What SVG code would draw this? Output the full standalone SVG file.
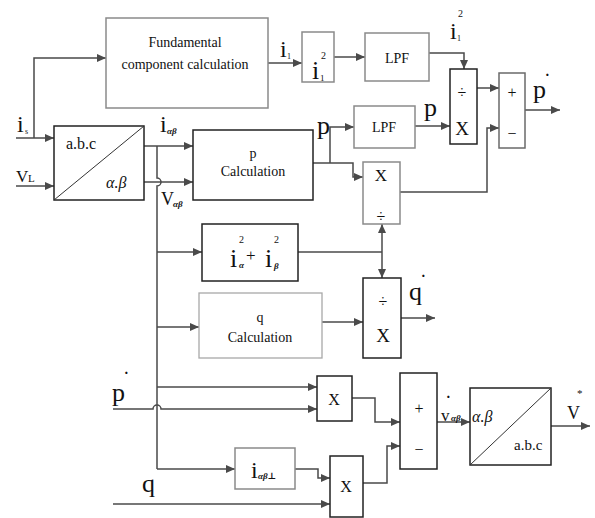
<svg xmlns="http://www.w3.org/2000/svg" width="595" height="518" viewBox="0 0 595 518" font-family="Liberation Serif, Times New Roman, DejaVu Serif, serif">
<style>
.b{fill:#fff;stroke:#222;stroke-width:1.5}
.g{fill:#fff;stroke:#8a8a8a;stroke-width:1.5}
.lg{fill:#fff;stroke:#a8a8a8;stroke-width:1.3}
.w{fill:none;stroke:#4a4a4a;stroke-width:1.5}
.d{fill:none;stroke:#333;stroke-width:1}
text{fill:#111}
.t{font-size:14px;text-anchor:middle}
.m{font-size:16px;text-anchor:middle}
.sub{font-size:9px;font-style:italic;font-weight:bold}
.sup{font-size:10px}
.it{font-style:italic}
.st{font-size:14px;font-weight:bold}
</style>
<defs>
<marker id="a" markerWidth="10" markerHeight="10" refX="9" refY="5" orient="auto" markerUnits="userSpaceOnUse">
<path d="M0,1 L9,5 L0,9 Z" fill="#4a4a4a"/>
</marker>
</defs>

<g id="connectors" class="w">
<path d="M16,138 H54" marker-end="url(#a)"/>
<path d="M34,138 V58 H106" marker-end="url(#a)"/>
<path d="M16,186 H54" marker-end="url(#a)"/>
<path d="M144,146 H193" marker-end="url(#a)"/>
<path d="M144,182 H193" marker-end="url(#a)"/>
<path d="M157,146 V178 a4,4 0 0 1 0,8 V469"/>
<path d="M157,252 H202" marker-end="url(#a)"/>
<path d="M157,327 H199" marker-end="url(#a)"/>
<path d="M157,387 H317" marker-end="url(#a)"/>
<path d="M113,409 H153 a4,4 0 0 1 8,0 H317" marker-end="url(#a)"/>
<path d="M157,469 H235" marker-end="url(#a)"/>
<path d="M295,469 H318 V478 H330" marker-end="url(#a)"/>
<path d="M113,504 H330" marker-end="url(#a)"/>
<path d="M352,398 H375 V422 H400" marker-end="url(#a)"/>
<path d="M363,483 H387 V446 H400" marker-end="url(#a)"/>
<path d="M437,422 H470" marker-end="url(#a)"/>
<path d="M551,426 H590" marker-end="url(#a)"/>
<path d="M268,63 H302" marker-end="url(#a)"/>
<path d="M334,57 H365" marker-end="url(#a)"/>
<path d="M429,53 H464 V69" marker-end="url(#a)"/>
<path d="M313,163 H353 V177 H363" marker-end="url(#a)"/>
<path d="M330,163 V127 H354" marker-end="url(#a)"/>
<path d="M415,126 H450" marker-end="url(#a)"/>
<path d="M477,88 H499" marker-end="url(#a)"/>
<path d="M400,192 H487 V128 H499" marker-end="url(#a)"/>
<path d="M525,110 H560" marker-end="url(#a)"/>
<path d="M298,252 H382"/>
<path d="M382,252 V224" marker-end="url(#a)"/>
<path d="M382,252 V278" marker-end="url(#a)"/>
<path d="M322,322 H363" marker-end="url(#a)"/>
<path d="M401,318 H435" marker-end="url(#a)"/>
</g>

<g id="fundamental">
<rect class="g" x="106" y="18" width="162" height="90"/>
<text class="t" x="185" y="47">Fundamental</text>
<text class="t" x="185" y="69">component calculation</text>
</g>

<g id="abc2ab">
<rect class="b" x="54" y="126" width="90" height="74"/>
<line class="d" x1="54" y1="200" x2="144" y2="126"/>
<text x="66" y="149" font-size="16">a.b.c</text>
<text class="it" x="106" y="188" font-size="16">α.β</text>
</g>

<g id="pcalc">
<rect class="b" x="193" y="130" width="120" height="70"/>
<text class="t" x="253" y="158">p</text>
<text class="t" x="253" y="176">Calculation</text>
</g>

<g id="i1sq">
<rect class="g" x="302" y="32" width="32" height="50"/>
<text x="312" y="79" font-size="26">i</text>
<text class="sup" x="321" y="59">2</text>
<text x="320" y="81" font-size="9">1</text>
</g>

<g id="lpf1">
<rect class="g" x="365" y="33" width="64" height="48"/>
<text class="t" x="397" y="63">LPF</text>
</g>

<g id="lpf2">
<rect class="g" x="354" y="106" width="61" height="42"/>
<text class="t" x="384" y="132">LPF</text>
</g>

<g id="divx1">
<rect class="b" x="450" y="69" width="27" height="75"/>
<text class="m" x="462" y="98">÷</text>
<text class="m" x="462" y="135" style="font-size:19px">X</text>
</g>

<g id="pm1">
<rect class="g" x="499" y="73" width="26" height="75" style="stroke:#6a6a6a"/>
<text class="m" x="512" y="98">+</text>
<text class="m" x="512" y="139">−</text>
</g>

<g id="xdiv">
<rect class="g" x="363" y="162" width="37" height="62"/>
<text class="m" x="381" y="181" style="font-size:17px">X</text>
<text class="m" x="381" y="222">÷</text>
</g>

<g id="isq">
<rect class="b" x="202" y="224" width="96" height="57"/>
<text x="230" y="267" font-size="26">i</text>
<text class="sup" x="239" y="243">2</text>
<text class="sub" x="239" y="268">α</text>
<text x="246" y="261" font-size="17">+</text>
<text x="265" y="267" font-size="26">i</text>
<text class="sup" x="274" y="243">2</text>
<text class="sub" x="274" y="269">β</text>
</g>

<g id="qcalc">
<rect class="lg" x="199" y="293" width="123" height="65"/>
<text class="t" x="260" y="322">q</text>
<text class="t" x="260" y="342">Calculation</text>
</g>

<g id="divx2">
<rect class="b" x="363" y="278" width="38" height="80"/>
<text class="m" x="383" y="307">÷</text>
<text class="m" x="383" y="342" style="font-size:19px">X</text>
</g>

<g id="x1">
<rect class="b" x="317" y="376" width="35" height="45"/>
<text class="m" x="334" y="405">X</text>
</g>

<g id="iperp">
<rect class="g" x="235" y="448" width="60" height="41"/>
<text x="251" y="478" font-size="24">i</text>
<text class="sub" x="258" y="479">αβ⊥</text>
</g>

<g id="x2">
<rect class="b" x="330" y="456" width="33" height="61"/>
<text class="m" x="346" y="492">X</text>
</g>

<g id="pm2">
<rect class="b" x="400" y="373" width="37" height="96"/>
<text class="m" x="419" y="414">+</text>
<text class="m" x="419" y="455">−</text>
</g>

<g id="ab2abc">
<rect class="b" x="470" y="388" width="81" height="77"/>
<line class="d" x1="470" y1="465" x2="551" y2="388"/>
<text class="it" x="472" y="422" font-size="16">α.β</text>
<text x="514" y="450" font-size="15">a.b.c</text>
</g>

<g id="labels">
<text x="17" y="132" font-size="24">i</text>
<text x="25" y="134" font-size="8">s</text>
<text x="16" y="182" font-size="17">V</text>
<text x="28" y="182" font-size="11">L</text>
<text x="160" y="132" font-size="24">i</text>
<text class="sub" x="167" y="134">αβ</text>
<text x="161" y="205" font-size="18">V</text>
<text class="sub" x="173" y="207">αβ</text>
<text x="280" y="57" font-size="24">i</text>
<text x="287" y="59" font-size="8">1</text>
<text x="450" y="39" font-size="24">i</text>
<text class="sup" x="458" y="17">2</text>
<text x="457" y="41" font-size="8">1</text>
<text x="317" y="134" font-size="26">p</text>
<text x="424" y="116" font-size="26">p</text>
<text x="533" y="98" font-size="26">p</text>
<text class="st" x="545" y="80">·</text>
<text x="409" y="300" font-size="26">q</text>
<text class="st" x="421" y="281">·</text>
<text x="112" y="401" font-size="26">p</text>
<text class="st" x="124" y="378">·</text>
<text x="142" y="492" font-size="26">q</text>
<text x="441" y="421" font-size="17">v</text>
<text class="st" x="446" y="402">·</text>
<text class="sub" x="451" y="421">αβ</text>
<text x="567" y="419" font-size="18">V</text>
<text x="577" y="397" font-size="11">*</text>
</g>
</svg>
